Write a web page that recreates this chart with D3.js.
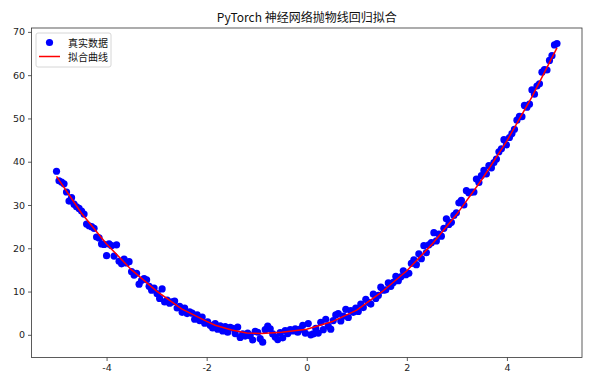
<!DOCTYPE html>
<html><head><meta charset="utf-8">
<script src="https://cdn.jsdelivr.net/npm/d3@7"></script>
<style>body{margin:0;background:#fff}svg{display:block}</style>
</head><body><svg id="c" width="600" height="384"></svg>
<script>
const titleText = "PyTorch 神经网络抛物线回归拟合";
const legendLabels = ["真实数据", "拟合曲线"];
const xTicks = [-4, -2, 0, 2, 4];
const yTicks = [0, 10, 20, 30, 40, 50, 60, 70];

const dataX = [-5.00,-4.95,-4.90,-4.85,-4.80,-4.75,-4.70,-4.65,-4.60,-4.55,-4.50,-4.45,-4.40,-4.35,-4.30,-4.25,-4.20,-4.15,-4.10,-4.05,
-4.00,-3.95,-3.90,-3.85,-3.80,-3.75,-3.70,-3.65,-3.60,-3.55,-3.50,-3.45,-3.40,-3.35,-3.30,-3.25,-3.20,-3.15,-3.10,-3.05,
-2.99,-2.94,-2.89,-2.84,-2.79,-2.74,-2.69,-2.64,-2.59,-2.54,-2.49,-2.44,-2.39,-2.34,-2.29,-2.24,-2.19,-2.14,-2.09,-2.04,
-1.98,-1.93,-1.88,-1.83,-1.78,-1.73,-1.68,-1.63,-1.58,-1.53,-1.48,-1.43,-1.38,-1.33,-1.28,-1.23,-1.18,-1.13,-1.08,-1.03,
-0.98,-0.93,-0.88,-0.83,-0.78,-0.73,-0.68,-0.63,-0.58,-0.53,-0.48,-0.43,-0.38,-0.33,-0.28,-0.23,-0.18,-0.13,-0.08,-0.03,
0.03,0.08,0.13,0.18,0.23,0.28,0.33,0.38,0.43,0.48,0.53,0.58,0.63,0.68,0.73,0.78,0.83,0.88,0.93,0.98,
1.03,1.08,1.13,1.18,1.23,1.28,1.33,1.38,1.43,1.48,1.53,1.58,1.63,1.68,1.73,1.78,1.83,1.88,1.93,1.98,
2.04,2.09,2.14,2.19,2.24,2.29,2.34,2.39,2.44,2.49,2.54,2.59,2.64,2.69,2.74,2.79,2.84,2.89,2.94,2.99,
3.04,3.09,3.14,3.19,3.24,3.29,3.34,3.39,3.44,3.49,3.54,3.59,3.64,3.69,3.74,3.79,3.84,3.89,3.94,3.99,
4.05,4.10,4.15,4.20,4.25,4.30,4.35,4.40,4.45,4.50,4.55,4.60,4.65,4.70,4.75,4.80,4.85,4.90,4.95,5.00];

const dataY = [37.8,35.6,35.3,34.9,33.0,30.9,31.7,30.2,29.6,29.2,28.6,27.9,25.6,25.2,25.0,24.6,22.6,22.4,21.0,20.9,
18.3,21.0,20.6,18.2,20.8,17.0,16.4,17.5,16.6,16.9,14.6,13.8,14.2,11.7,12.6,13.0,12.7,11.2,10.3,10.8,
9.5,8.4,10.6,7.6,8.0,7.3,7.6,7.8,6.2,6.6,5.2,6.2,4.9,5.3,5.0,3.6,4.6,3.3,4.1,2.7,
3.0,2.2,1.6,2.6,1.3,2.1,0.9,1.9,0.6,1.7,1.5,0.3,1.8,-0.6,0.2,-0.3,0.4,-0.2,-1.2,0.8,
0.6,-0.9,-1.7,1.2,2.0,1.4,0.2,-0.5,-1.1,0.5,-0.7,1.0,0.3,1.2,0.9,1.4,0.6,1.3,2.2,0.4,
2.6,0.0,0.2,1.5,0.4,2.9,1.2,3.6,2.0,1.3,3.3,4.6,4.9,3.2,4.3,5.9,4.0,5.6,5.2,6.2,
5.4,7.1,6.3,8.2,7.5,7.1,9.4,8.4,9.1,11.0,10.3,10.4,12.0,11.2,12.1,13.5,12.5,13.4,14.8,13.9,
14.2,16.5,17.3,16.2,18.7,17.6,20.6,19.0,20.8,21.3,23.6,21.7,23.3,22.8,24.6,26.8,25.5,26.0,27.6,28.2,
30.5,31.1,30.0,33.3,32.8,33.0,33.0,36.0,35.2,36.8,38.0,37.2,39.1,38.6,39.8,40.6,42.3,43.0,45.1,43.9,
45.6,46.5,47.5,49.6,50.5,50.4,53.0,52.6,53.3,56.6,55.6,57.5,58.0,60.7,61.3,61.2,63.4,64.5,67.0,67.3];

const fitX = [-5.0,-4.5,-4.0,-3.5,-3.0,-2.5,-2.0,-1.83,-1.5,-1.2,-0.9,-0.5,0.0,0.5,1.0,1.5,2.0,2.5,3.0,3.5,4.0,4.5,5.0];
const fitY = [36.6,28.1,21.0,15.0,10.1,6.0,3.1,2.2,1.1,0.4,0.3,0.6,1.3,3.0,5.7,9.9,14.8,20.9,27.9,35.9,44.8,55.0,66.3];

const svg = d3.select("#c");
const L = 31.5, R = 582, T = 28, B = 357.5;
const x = d3.scaleLinear().domain([-5.5, 5.5]).range([L, R]);
const y = d3.scaleLinear().domain([-5.24, 70.9]).range([B, T]);
const font = "'DejaVu Sans', sans-serif";

// points
svg.append("g").selectAll("circle").data(dataX.map((d, i) => [d, dataY[i]])).join("circle")
  .attr("cx", d => x(d[0])).attr("cy", d => y(d[1])).attr("r", 3.6).attr("fill", "#0000ff");

// fitted line
svg.append("path").datum(fitX.map((d, i) => [d, fitY[i]]))
  .attr("d", d3.line().x(d => x(d[0])).y(d => y(d[1])))
  .attr("fill", "none").attr("stroke", "#ff0000").attr("stroke-width", 1.5);

// axes
const xa = svg.append("g").attr("transform", `translate(0,${B})`)
  .call(d3.axisBottom(x).tickValues(xTicks).tickSize(3.5).tickPadding(3).tickFormat(d => String(d)));
const ya = svg.append("g").attr("transform", `translate(${L},0)`)
  .call(d3.axisLeft(y).tickValues(yTicks).tickSize(3.5).tickPadding(3));
[xa, ya].forEach(a => {
  a.select(".domain").remove();
  a.selectAll("line").attr("stroke", "#333").attr("stroke-width", 0.8);
  a.selectAll("text").attr("font-family", font).attr("font-size", 9.5).attr("fill", "#222");
});
svg.append("rect").attr("x", L).attr("y", T).attr("width", R - L).attr("height", B - T)
  .attr("fill", "none").attr("stroke", "#333").attr("stroke-width", 0.8);

// title
svg.append("text").attr("x", (L + R) / 2).attr("y", 22).attr("text-anchor", "middle")
  .attr("font-family", "'Noto Sans CJK SC',sans-serif").attr("font-size", 12).attr("fill", "#111")
  .text(titleText);

// legend
const lg = svg.append("g");
lg.append("rect").attr("x", 36).attr("y", 33).attr("width", 75).attr("height", 34).attr("rx", 2)
  .attr("fill", "#fff").attr("fill-opacity", 0.8).attr("stroke", "#ccc").attr("stroke-width", 0.8);
lg.append("circle").attr("cx", 49.5).attr("cy", 42.5).attr("r", 3.6).attr("fill", "#0000ff");
lg.append("line").attr("x1", 39).attr("x2", 60).attr("y1", 56.5).attr("y2", 56.5).attr("stroke", "#ff0000").attr("stroke-width", 1.5);
lg.selectAll("text.l").data(legendLabels).join("text").attr("class", "l")
  .attr("x", 68).attr("y", (d, i) => 46.5 + i * 14)
  .attr("font-family", "'Noto Sans CJK SC',sans-serif").attr("font-size", 10).attr("fill", "#111").text(d => d);
</script></body></html>
